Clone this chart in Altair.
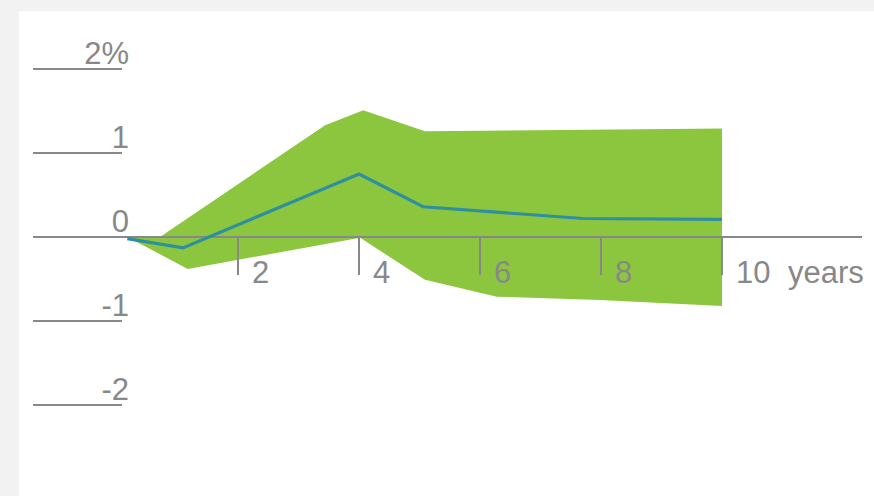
import altair as alt
import pandas as pd

# ---- data ----
upper_t = [0.17, 0.71, 3.44, 4.07, 5.09, 10.0]
upper_v = [0.0, 0.0, 1.33, 1.51, 1.26, 1.29]
lower_t = [0.17, 1.17, 4.02, 5.09, 6.28, 7.98, 10.0]
lower_v = [0.0, -0.38, -0.01, -0.51, -0.71, -0.75, -0.82]
line_t = [0.17, 1.09, 4.0, 5.06, 7.7, 10.0]
line_v = [-0.02, -0.13, 0.75, 0.36, 0.22, 0.21]
y_ticks = [2, 1, 0, -1, -2]
y_labels = ["2%", "1", "0", "-1", "-2"]
x_ticks = [2, 4, 6, 8, 10]
x_labels = ["2", "4", "6", "8", "10"]
x_unit = "years"

GREEN = "#8cc63f"
BLUE = "#2e8fa0"
GRAY = "#888888"
FONT = "Liberation Sans"
FS = 31

# polygon of the band: upper edge left->right, lower edge right->left
poly_t = upper_t + lower_t[::-1][:-1]
poly_v = upper_v + lower_v[::-1][:-1]
band = pd.DataFrame({"t": poly_t, "v": poly_v, "o": list(range(len(poly_t)))})
line = pd.DataFrame({"t": line_t, "v": line_v})
yt = pd.DataFrame({"v": y_ticks, "lab": y_labels})
xt = pd.DataFrame({"t": x_ticks, "lab": x_labels})
zero = pd.DataFrame({"v": [0]})
unit = pd.DataFrame({"t": [x_ticks[-1]], "lab": [x_unit]})

xs = alt.Scale(domain=[-1.6198, 12.512], nice=False, zero=False)
ys = alt.Scale(domain=[-3.083, 2.690], nice=False, zero=False)

band_mark = alt.Chart(band).mark_line(
    filled=True, fill=GREEN, strokeWidth=0, interpolate="linear-closed"
).encode(
    x=alt.X("t:Q", scale=xs, axis=None),
    y=alt.Y("v:Q", scale=ys, axis=None),
    order="o:Q",
)

zero_line = alt.Chart(zero).mark_rule(color=GRAY, strokeWidth=2).encode(
    x=alt.value(14), x2=alt.value(843), y=alt.Y("v:Q", scale=ys, axis=None)
)

y_rules = alt.Chart(yt).mark_rule(color=GRAY, strokeWidth=2).encode(
    x=alt.value(14), x2=alt.value(103), y=alt.Y("v:Q", scale=ys, axis=None)
)
y_text = alt.Chart(yt).mark_text(
    align="right", baseline="alphabetic", dy=-5, fontSize=FS, font=FONT, color=GRAY
).encode(x=alt.value(110), y=alt.Y("v:Q", scale=ys, axis=None), text="lab:N")

x_rules = alt.Chart(xt).mark_rule(color=GRAY, strokeWidth=2).encode(
    x=alt.X("t:Q", scale=xs, axis=None), y=alt.value(226), y2=alt.value(264)
)
x_text = alt.Chart(xt).mark_text(
    align="left", baseline="alphabetic", dx=14, fontSize=FS, font=FONT, color=GRAY
).encode(x=alt.X("t:Q", scale=xs, axis=None), y=alt.value(272), text="lab:N")
unit_text = alt.Chart(unit).mark_text(
    align="left", baseline="alphabetic", dx=66, fontSize=FS, font=FONT, color=GRAY
).encode(x=alt.X("t:Q", scale=xs, axis=None), y=alt.value(272), text="lab:N")

line_mark = alt.Chart(line).mark_line(color=BLUE, strokeWidth=3.2).encode(
    x=alt.X("t:Q", scale=xs, axis=None), y=alt.Y("v:Q", scale=ys, axis=None)
)

chart = alt.layer(
    band_mark, zero_line, y_rules, y_text, x_rules, x_text, unit_text, line_mark
).properties(
    width=855, height=485,
    padding={"left": 19, "top": 11, "right": 0, "bottom": 0},
    autosize=alt.AutoSizeParams(type="none"),
    background="#f2f2f2",
).configure_view(fill="white", strokeWidth=0)

chart.save("out.html", embed_options={"renderer": "svg", "actions": False})
